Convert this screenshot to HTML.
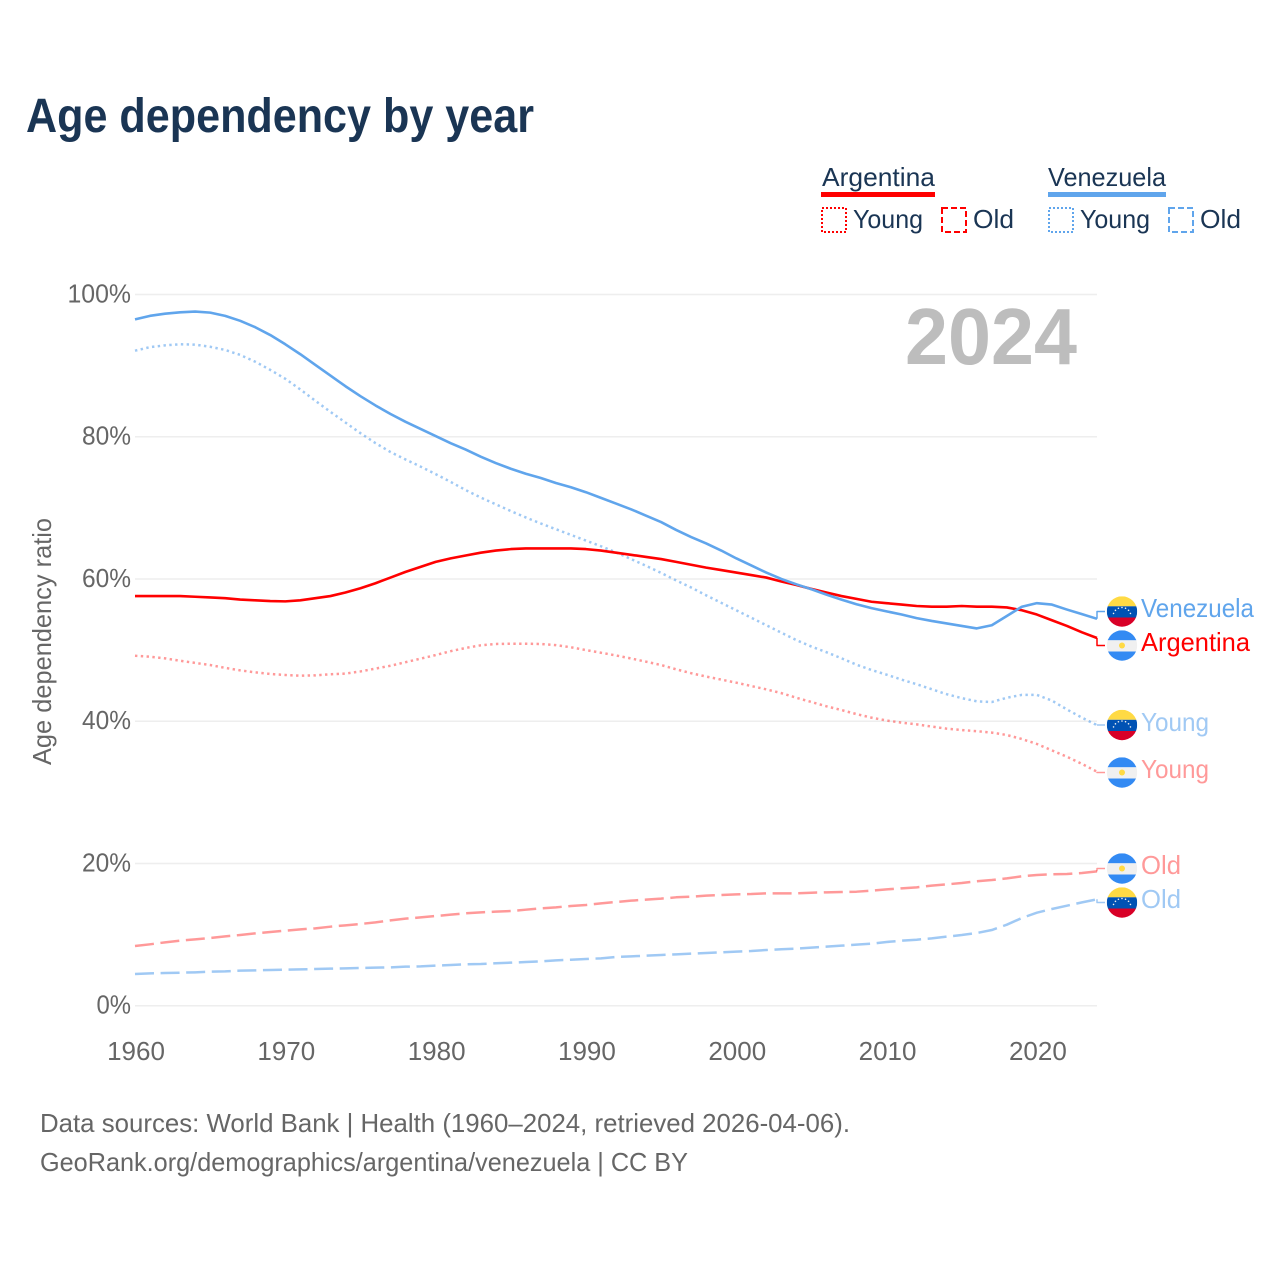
<!DOCTYPE html>
<html lang="en">
<head>
<meta charset="utf-8">
<title>Age dependency by year</title>
<style>
html,body{margin:0;padding:0;background:#fff;}
svg{display:block;}
text{font-family:"Liberation Sans",Arial,sans-serif;}
</style>
</head>
<body>
<svg id="chart" xmlns="http://www.w3.org/2000/svg" width="1280" height="1280" viewBox="0 0 1280 1280">
  <rect x="0" y="0" width="1280" height="1280" fill="#ffffff"/>
  <text x="26" y="132" font-size="48" font-weight="700" fill="#1a3554" textLength="508" lengthAdjust="spacingAndGlyphs">Age dependency by year</text>

  <g font-size="26" fill="#1a3554">
    <text x="822" y="186" textLength="113" lengthAdjust="spacingAndGlyphs">Argentina</text>
    <rect x="821" y="192" width="114" height="5" fill="#ff0000"/>
    <rect x="822" y="208" width="24" height="24" fill="none" stroke="#ff0000" stroke-width="2" stroke-dasharray="2 2"/>
    <text x="853" y="228" textLength="70" lengthAdjust="spacingAndGlyphs">Young</text>
    <rect x="942" y="208" width="24" height="24" fill="none" stroke="#ff0000" stroke-width="2" stroke-dasharray="6 3"/>
    <text x="973" y="228" textLength="41" lengthAdjust="spacingAndGlyphs">Old</text>
    <text x="1048" y="186" textLength="118" lengthAdjust="spacingAndGlyphs">Venezuela</text>
    <rect x="1048" y="192" width="118" height="5" fill="#60a5ec"/>
    <rect x="1049" y="208" width="24" height="24" fill="none" stroke="#60a5ec" stroke-width="2" stroke-dasharray="2 2"/>
    <text x="1080" y="228" textLength="70" lengthAdjust="spacingAndGlyphs">Young</text>
    <rect x="1169" y="208" width="24" height="24" fill="none" stroke="#60a5ec" stroke-width="2" stroke-dasharray="6 3"/>
    <text x="1200" y="228" textLength="41" lengthAdjust="spacingAndGlyphs">Old</text>
  </g>

  <text transform="translate(51 641.5) rotate(-90)" text-anchor="middle" font-size="26" fill="#666666" textLength="247" lengthAdjust="spacingAndGlyphs">Age dependency ratio</text>

  <g id="grid"></g>
  <g id="y-ticks"></g>
  <g id="x-ticks"></g>

  <text x="905" y="364" font-size="80" font-weight="700" fill="#bdbdbd" textLength="172" lengthAdjust="spacingAndGlyphs">2024</text>

  <g id="series"></g>
  <g id="end-labels"></g>

  <text x="40" y="1132" font-size="26" fill="#666666" textLength="810" lengthAdjust="spacingAndGlyphs">Data sources: World Bank | Health (1960–2024, retrieved 2026-04-06).</text>
  <text x="40" y="1171" font-size="26" fill="#666666" textLength="648" lengthAdjust="spacingAndGlyphs">GeoRank.org/demographics/argentina/venezuela | CC BY</text>
</svg>

<script>
const startYear = 1960;
const endYear = 2024;
const yTickValues = [0, 20, 40, 60, 80, 100];
const xTickValues = [1960, 1970, 1980, 1990, 2000, 2010, 2020];

const venezuelaTotal = [96.5,97.0,97.3,97.5,97.6,97.45,97.0,96.3,95.4,94.3,93.0,91.6,90.1,88.6,87.1,85.7,84.4,83.2,82.1,81.1,80.1,79.1,78.2,77.2,76.3,75.5,74.8,74.2,73.5,72.9,72.2,71.4,70.6,69.8,68.9,68.0,66.9,65.9,65.0,64.0,62.9,61.9,60.9,60.0,59.25,58.55,57.8,57.1,56.45,55.9,55.45,55.0,54.5,54.1,53.75,53.4,53.05,53.5,54.8,56.1,56.6,56.4,55.7,55.05,54.4];
const argentinaTotal = [57.6,57.6,57.6,57.6,57.5,57.4,57.3,57.1,57.0,56.9,56.85,57.0,57.3,57.6,58.1,58.7,59.4,60.2,61.0,61.7,62.4,62.9,63.3,63.7,64.0,64.2,64.3,64.3,64.3,64.3,64.2,64.0,63.7,63.4,63.1,62.8,62.4,62.0,61.6,61.25,60.9,60.55,60.2,59.65,59.15,58.6,58.1,57.6,57.2,56.8,56.6,56.4,56.2,56.1,56.1,56.2,56.1,56.1,56.0,55.6,55.0,54.2,53.4,52.5,51.7];
const venezuelaYoung = [92.1,92.6,92.85,93.0,92.95,92.65,92.2,91.5,90.55,89.4,88.15,86.65,85.05,83.5,82.0,80.5,79.1,77.85,76.8,75.8,74.75,73.65,72.5,71.45,70.5,69.55,68.65,67.8,67.0,66.2,65.4,64.6,63.75,62.8,61.85,60.85,59.8,58.8,57.7,56.65,55.6,54.55,53.5,52.45,51.4,50.5,49.7,48.85,47.95,47.2,46.55,45.85,45.2,44.5,43.8,43.25,42.8,42.7,43.3,43.7,43.7,42.9,41.65,40.5,39.45];
const argentinaYoung = [49.2,49.07,48.84,48.5,48.2,47.9,47.5,47.15,46.87,46.64,46.5,46.4,46.45,46.6,46.7,47.0,47.4,47.8,48.3,48.8,49.3,49.85,50.3,50.67,50.86,50.9,50.9,50.86,50.7,50.4,50.0,49.63,49.25,48.82,48.37,47.9,47.3,46.75,46.28,45.85,45.42,44.95,44.48,43.95,43.3,42.7,42.1,41.57,41.0,40.5,40.1,39.8,39.56,39.25,38.95,38.76,38.6,38.4,38.06,37.5,36.8,35.9,35.0,34.0,32.9];
const argentinaOld = [8.39,8.63,8.91,9.14,9.33,9.52,9.75,9.94,10.17,10.36,10.55,10.74,10.88,11.11,11.3,11.49,11.72,12.0,12.24,12.42,12.61,12.8,12.99,13.13,13.22,13.31,13.5,13.69,13.83,14.02,14.16,14.39,14.58,14.77,14.91,15.05,15.24,15.33,15.47,15.56,15.66,15.7,15.8,15.8,15.8,15.89,15.94,15.99,16.03,16.17,16.36,16.5,16.64,16.88,17.06,17.25,17.49,17.67,17.9,18.19,18.38,18.47,18.52,18.66,18.89];
const venezuelaOld = [4.46,4.55,4.6,4.64,4.69,4.78,4.83,4.93,4.97,5.02,5.07,5.11,5.16,5.21,5.25,5.3,5.35,5.39,5.49,5.53,5.63,5.72,5.82,5.86,5.96,6.05,6.14,6.24,6.38,6.47,6.57,6.66,6.85,6.94,7.03,7.13,7.22,7.32,7.41,7.5,7.6,7.69,7.83,7.93,8.02,8.16,8.3,8.44,8.58,8.72,8.96,9.14,9.28,9.47,9.71,9.94,10.22,10.64,11.39,12.33,13.08,13.6,14.06,14.53,14.96];

const NS = 'http://www.w3.org/2000/svg';
const plotLeft = 135, plotRight = 1097, plotTop = 294.5, plotBottom = 1005.7;
function xScale(year) { return plotLeft + (year - startYear) * (plotRight - plotLeft) / (endYear - startYear); }
function yScale(v) { return plotBottom - v * (plotBottom - plotTop) / 100; }
function make(tag, attrs, parent) {
  const el = document.createElementNS(NS, tag);
  for (const k in attrs) el.setAttribute(k, attrs[k]);
  parent.appendChild(el);
  return el;
}

const gridG = document.getElementById('grid');
const yTicksG = document.getElementById('y-ticks');
const xTicksG = document.getElementById('x-ticks');
yTickValues.forEach(function (v) {
  const line = make('line', { x1: plotLeft, x2: plotRight, y1: yScale(v), y2: yScale(v), stroke: '#eeeeee', 'stroke-width': 1.5 }, gridG);
  
  
  const label = v + '%';
  const t = make('text', { x: 131, y: yScale(v) + 8, 'text-anchor': 'end', 'font-size': 26, fill: '#666666', textLength: (label.length - 1) * 14.5 + 20, lengthAdjust: 'spacingAndGlyphs' }, yTicksG);
  t.textContent = label;
  
  
});
xTickValues.forEach(function (yr) {
  const t = make('text', { x: xScale(yr) + 1, y: 1060, 'text-anchor': 'middle', 'font-size': 26, fill: '#666666' }, xTicksG);
  t.textContent = String(yr);
  
  
});

const blue = '#60a5ec', red = '#ff0000';
const seriesG = document.getElementById('series');
function drawSeries(values, color, width, opacity, dash, flagY) {
  const g = make('g', { fill: 'none', stroke: color, 'stroke-opacity': opacity, 'stroke-linejoin': 'round' }, seriesG);
  let d = '';
  values.forEach(function (v, i) {
    d += (i ? 'L' : 'M') + xScale(startYear + i).toFixed(2) + ' ' + yScale(v).toFixed(2);
  });
  const attrs = { d: d, 'stroke-width': width };
  if (dash) attrs['stroke-dasharray'] = dash;
  const path = make('path', attrs, g);
  const lastY = yScale(values[values.length - 1]);
  const lead = make('path', { d: 'M' + plotRight + ' ' + lastY.toFixed(2) + 'V' + flagY + 'H1105', 'stroke-width': 1.5 }, g);
  return { g: g, path: path, lead: lead };
}

const s1 = drawSeries(argentinaOld, red, 2.5, 0.4, '19 6.6', 868.5);


const s2 = drawSeries(venezuelaOld, blue, 2.5, 0.6, '19 6.6', 902.5);


const s3 = drawSeries(argentinaYoung, red, 2.5, 0.4, '2.4 3.4', 772.5);


const s4 = drawSeries(venezuelaYoung, blue, 2.5, 0.6, '2.4 3.4', 725);


const s5 = drawSeries(argentinaTotal, red, 2.6, 1, null, 645.5);


const s6 = drawSeries(venezuelaTotal, blue, 2.6, 1, null, 611.5);



const labelsG = document.getElementById('end-labels');
const defs = make('defs', {}, labelsG);
let clipCount = 0;
function flag(kind, cy) {
  const cx = 1122, r = 15.2;
  const id = 'flag-clip-' + (++clipCount);
  const cp = make('clipPath', { id: id }, defs);
  make('circle', { cx: cx, cy: cy, r: r }, cp);
  const g = make('g', { 'clip-path': 'url(#' + id + ')' }, labelsG);
  const top = cy - r;
  if (kind === 've') {
    make('rect', { x: cx - r, y: top, width: 2 * r, height: 10, fill: '#ffda44' }, g);
    make('rect', { x: cx - r, y: top + 10, width: 2 * r, height: 11.2, fill: '#0052b4' }, g);
    make('rect', { x: cx - r, y: top + 21.2, width: 2 * r, height: 10, fill: '#d80027' }, g);
    for (let a = -70; a <= 70; a += 23.3) {
      const rad = a * Math.PI / 180;
      make('circle', { cx: cx + 9 * Math.sin(rad), cy: cy + 5 - 9 * Math.cos(rad), r: 0.8, fill: '#f0f0f0' }, g);
    }
  } else {
    make('rect', { x: cx - r, y: top, width: 2 * r, height: 10, fill: '#338af3' }, g);
    make('rect', { x: cx - r, y: top + 10, width: 2 * r, height: 11.2, fill: '#f0f0f0' }, g);
    make('rect', { x: cx - r, y: top + 21.2, width: 2 * r, height: 10, fill: '#338af3' }, g);
    make('circle', { cx: cx, cy: cy, r: 3, fill: '#ffda44' }, g);
  }
  return g;
}
function endLabel(text, color, opacity, baseline, width) {
  const t = make('text', { x: 1141, y: baseline, 'font-size': 26, fill: color, 'fill-opacity': opacity, textLength: width, lengthAdjust: 'spacingAndGlyphs' }, labelsG);
  t.textContent = text;
  return t;
}

const f1 = flag('ve', 611.5);


const l1 = endLabel('Venezuela', blue, 1, 617, 113);



const f2 = flag('ar', 645.5);


const l2 = endLabel('Argentina', red, 1, 651, 109);



const f3 = flag('ve', 725);


const l3 = endLabel('Young', blue, 0.6, 731, 68);



const f4 = flag('ar', 772.5);


const l4 = endLabel('Young', red, 0.4, 778, 68);



const f5 = flag('ar', 868.5);


const l5 = endLabel('Old', red, 0.4, 874, 40);



const f6 = flag('ve', 902.5);


const l6 = endLabel('Old', blue, 0.6, 908, 40);


</script>
</body>
</html>
